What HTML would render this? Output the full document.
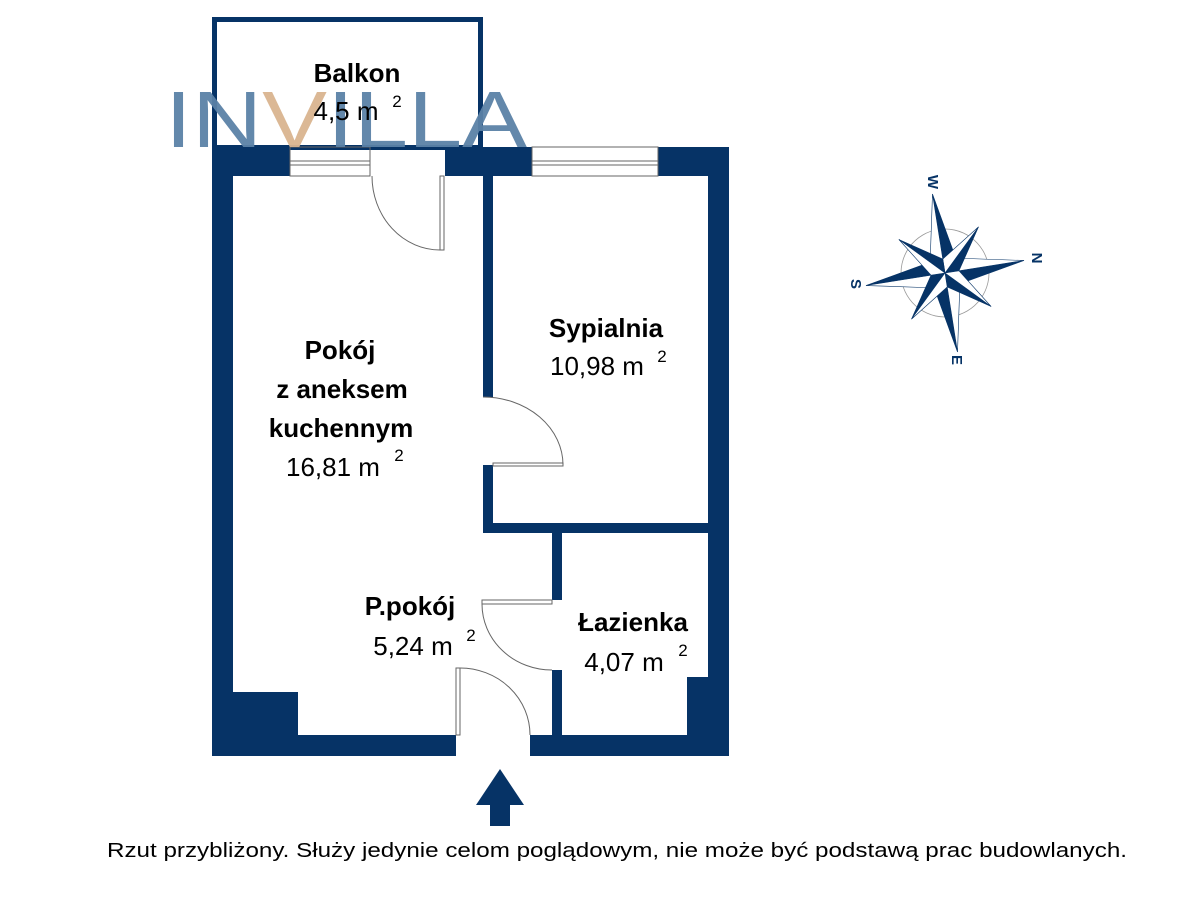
<!DOCTYPE html>
<html><head><meta charset="utf-8"><style>
html,body{margin:0;padding:0;background:#fff;width:1200px;height:900px;overflow:hidden}
svg{display:block}
text{font-family:"Liberation Sans",sans-serif}
</style></head><body>
<svg width="1200" height="900" viewBox="0 0 1200 900" xmlns="http://www.w3.org/2000/svg">
<g fill="#063366">
<rect x="214.5" y="19.5" width="266" height="128" fill="none" stroke="#063366" stroke-width="5"/>
<rect x="212" y="147" width="78" height="29"/>
<rect x="445" y="147" width="87" height="29"/>
<rect x="658" y="147" width="71" height="29"/>
<rect x="212" y="147" width="21" height="609"/>
<rect x="708" y="147" width="21" height="609"/>
<rect x="212" y="735" width="244" height="21"/>
<rect x="530" y="735" width="199" height="21"/>
<rect x="233" y="692" width="65" height="43"/>
<rect x="687" y="677" width="21" height="58"/>
<rect x="483" y="176" width="10" height="221"/>
<rect x="483" y="465" width="10" height="68"/>
<rect x="483" y="523" width="225" height="10"/>
<rect x="552" y="533" width="10" height="67"/>
<rect x="552" y="670" width="10" height="65"/>
</g>
<g fill="none" stroke="#666" stroke-width="1">
<rect x="290" y="147" width="80" height="29"/>
<line x1="290" y1="161" x2="370" y2="161"/>
<line x1="290" y1="165" x2="370" y2="165"/>
<rect x="532" y="147" width="126" height="29"/>
<line x1="532" y1="161" x2="658" y2="161"/>
<line x1="532" y1="165" x2="658" y2="165"/>
<rect x="440" y="176" width="4" height="74"/>
<path d="M372 176 A68 74 0 0 0 440 250"/>
<rect x="493" y="463" width="70" height="3"/>
<path d="M483 397 A80 68 0 0 1 563 465"/>
<rect x="482" y="600" width="70" height="4"/>
<path d="M482 604 A70 66 0 0 0 552 670"/>
<rect x="456" y="668" width="4" height="67"/>
<path d="M460 668 A70 67 0 0 1 530 735"/>
</g>
<path d="M500 769 L524 805 L510 805 L510 826 L490 826 L490 805 L476 805 Z" fill="#063366"/>
<text x="165" y="147" font-size="80" textLength="362" lengthAdjust="spacingAndGlyphs" fill="#5b82a6" fill-opacity="0.95">IN<tspan fill="#d9b48f">V</tspan>ILLA</text>
<g fill="#000" font-size="26" text-anchor="middle">
<text x="357" y="82" font-weight="bold">Balkon</text>
<text x="346" y="120">4,5 m</text><text x="397" y="107" font-size="17">2</text>
<text x="606" y="337" font-weight="bold">Sypialnia</text>
<text x="597" y="375">10,98 m</text><text x="662" y="362" font-size="17">2</text>
<text x="340" y="359" font-weight="bold">Pokój</text>
<text x="342" y="398" font-weight="bold">z aneksem</text>
<text x="341" y="437" font-weight="bold">kuchennym</text>
<text x="333" y="476">16,81 m</text><text x="399" y="461" font-size="17">2</text>
<text x="410" y="615" font-weight="bold">P.pokój</text>
<text x="413" y="655">5,24 m</text><text x="471" y="641" font-size="17">2</text>
<text x="633" y="631" font-weight="bold">Łazienka</text>
<text x="624" y="671">4,07 m</text><text x="683" y="656" font-size="17">2</text>
</g>
<text x="617" y="857" font-size="20" text-anchor="middle" textLength="1020" lengthAdjust="spacingAndGlyphs">Rzut przybliżony. Służy jedynie celom poglądowym, nie może być podstawą prac budowlanych.</text>
<g transform="translate(945,273) rotate(-9)">
<circle r="44" fill="none" stroke="#999" stroke-width="0.8"/>
<g fill="#063366" stroke="#063366" stroke-width="0.6">
<g><path d="M0 0 L0 -80 L13 -13 Z"/><path d="M0 0 L0 -80 L-13 -13 Z" fill="#fff"/></g>
<g transform="rotate(90)"><path d="M0 0 L0 -80 L13 -13 Z"/><path d="M0 0 L0 -80 L-13 -13 Z" fill="#fff"/></g>
<g transform="rotate(180)"><path d="M0 0 L0 -80 L13 -13 Z"/><path d="M0 0 L0 -80 L-13 -13 Z" fill="#fff"/></g>
<g transform="rotate(270)"><path d="M0 0 L0 -80 L13 -13 Z"/><path d="M0 0 L0 -80 L-13 -13 Z" fill="#fff"/></g>
<g transform="rotate(45)"><path d="M0 0 L0 -57 L10 -10 Z"/><path d="M0 0 L0 -57 L-10 -10 Z" fill="#fff"/></g>
<g transform="rotate(135)"><path d="M0 0 L0 -57 L10 -10 Z"/><path d="M0 0 L0 -57 L-10 -10 Z" fill="#fff"/></g>
<g transform="rotate(225)"><path d="M0 0 L0 -57 L10 -10 Z"/><path d="M0 0 L0 -57 L-10 -10 Z" fill="#fff"/></g>
<g transform="rotate(315)"><path d="M0 0 L0 -57 L10 -10 Z"/><path d="M0 0 L0 -57 L-10 -10 Z" fill="#fff"/></g>
</g>
</g>
<g fill="#063366" font-size="15" font-weight="bold" text-anchor="middle">
<text x="933" y="187" transform="rotate(90 933 182)">W</text>
<text x="1037" y="263" transform="rotate(90 1037 258)">N</text>
<text x="856" y="289" transform="rotate(90 856 284)">S</text>
<text x="957" y="365" transform="rotate(90 957 360)">E</text>
</g>
</svg>
</body></html>
